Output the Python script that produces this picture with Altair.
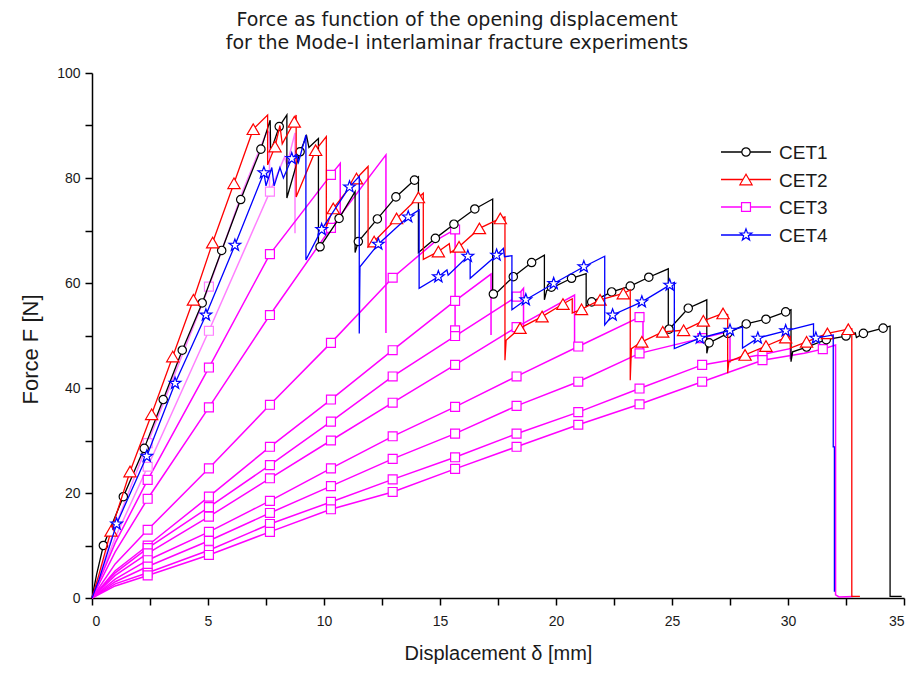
import altair as alt
import pandas as pd

TITLE_LINES = ["Force as function of the opening displacement",
               "for the Mode-I interlaminar fracture experiments"]
X_TITLE = "Displacement δ [mm]"
Y_TITLE = "Force F [N]"
SERIES = ["CET1", "CET2", "CET3", "CET4"]
X_TICKS = [0, 2.5, 5, 7.5, 10, 12.5, 15, 17.5, 20, 22.5, 25, 27.5, 30, 32.5, 35]
Y_TICKS = [0, 10, 20, 30, 40, 50, 60, 70, 80, 90, 100]

# ---------------- CET1 (black, circles) ----------------
CET1_LINE = [(0, 0), (0.2, 4.5), (0.49, 10), (1.35, 19.3), (2.25, 28.5), (3.07, 37.8), (3.89, 47.2),
             (4.75, 56.2), (5.59, 66.2), (6.41, 75.9), (7.28, 85.5), (7.68, 91), (7.7, 85), (8.07, 89.8),
             (8.4, 92), (8.4, 76.2), (8.97, 85), (9.25, 88), (9.35, 85.8), (9.76, 87.5), (9.76, 66),
             (9.83, 66.9), (10.65, 72.3), (11.34, 77.4), (11.34, 65.8), (11.48, 67.9), (12.3, 72.2),
             (13.1, 76.4), (13.9, 79.6), (14.07, 80.2), (14.07, 65.8), (14.8, 68.5), (15.6, 71.2),
             (16.5, 74.1), (17.27, 76), (17.27, 57.4), (18.16, 61.2), (18.95, 63.9), (19.5, 65.3),
             (19.5, 56.8), (19.6, 58.6), (20.67, 60.9), (21.3, 61.8), (21.3, 55.5), (21.54, 56.4),
             (22.4, 58.3), (23.2, 59.4), (24.0, 61.1), (24.84, 62.7), (24.84, 51), (25.7, 55.2),
             (26.5, 56.8), (26.5, 46.6), (26.6, 48.6), (27.4, 50.4), (28.2, 52.2), (29.05, 53.1),
             (29.9, 54.5), (30.13, 54.9), (30.13, 45), (30.2, 46.9), (30.8, 47.8), (31.65, 49.2),
             (32.5, 49.9), (32.9, 50.5), (32.95, 49.6), (33.25, 50.4), (34.1, 51.4), (34.4, 51.8),
             (34.4, 0.3), (34.9, 0.3)]
CET1_MARKS = [(0.49, 10), (1.35, 19.3), (2.25, 28.5), (3.07, 37.8), (3.89, 47.2), (4.75, 56.2),
              (5.59, 66.2), (6.41, 75.9), (7.28, 85.5), (8.07, 89.8), (8.97, 85), (9.83, 66.9),
              (10.65, 72.3), (11.48, 67.9), (12.3, 72.2), (13.1, 76.4), (13.9, 79.6), (14.8, 68.5),
              (15.6, 71.2), (16.5, 74.1), (17.3, 57.9), (18.16, 61.2), (18.95, 63.9), (19.8, 59.2),
              (20.67, 60.9), (21.54, 56.4), (22.4, 58.3), (23.2, 59.4), (24.0, 61.1), (24.87, 51.2),
              (25.7, 55.2), (26.6, 48.6), (27.4, 50.4), (28.2, 52.2), (29.05, 53.1), (29.9, 54.5),
              (30.8, 47.8), (31.65, 49.2), (32.5, 49.9), (33.25, 50.4), (34.1, 51.4)]

# ---------------- CET2 (red, triangles) ----------------
CET2_LINE = [(0, 0), (0.3, 4.5), (0.82, 12.8), (1.64, 24.1), (2.57, 35), (3.48, 46), (4.37, 56.8),
             (5.2, 67.7), (6.12, 79), (6.95, 89.3), (7.57, 92), (7.57, 82.5), (7.89, 86), (8.1, 90),
             (8.2, 86.5), (8.72, 90.7), (8.8, 92), (8.8, 76.4), (9.64, 85.3), (10.1, 87.9), (10.1, 70.7),
             (10.4, 74.2), (11.4, 79.9), (11.9, 82.2), (11.9, 66.9), (12.16, 67.9), (13.13, 72.3),
             (14.07, 76.3), (14.28, 77.1), (14.28, 64.5), (14.93, 66), (15.4, 67.5), (15.45, 65.8),
             (15.82, 66.9), (16.7, 70.4), (17.6, 72.3), (17.8, 72.6), (17.8, 45.3), (17.85, 49.1),
             (18.45, 51.4), (19.4, 53.6), (20.3, 56), (20.7, 57), (20.7, 54.3), (21.1, 55), (21.9, 56.8),
             (22.9, 58), (23.2, 58.7), (23.2, 41.5), (23.25, 47.5), (23.7, 48.8), (24.6, 50.7),
             (25.5, 51), (26.35, 52.8), (27.2, 54.2), (27.4, 54), (27.4, 42.8), (27.45, 45),
             (28.15, 46.3), (29.05, 48), (29.9, 49.6), (30.1, 49.8), (30.1, 47.6), (30.8, 48.8),
             (31.7, 50.4), (32.6, 51.2), (32.75, 51.3), (32.75, 0.3), (33.1, 0.3)]
CET2_MARKS = [(0.82, 12.8), (1.64, 24.1), (2.57, 35), (3.48, 46), (4.37, 56.8), (5.2, 67.7),
              (6.12, 79), (6.95, 89.3), (7.89, 86), (8.72, 90.7), (9.64, 85.3), (10.4, 74.2),
              (11.4, 79.9), (12.16, 67.9), (13.13, 72.3), (14.07, 76.3), (14.93, 66), (15.82, 66.9),
              (16.7, 70.4), (17.6, 72.3), (18.45, 51.4), (19.4, 53.6), (20.3, 56), (21.1, 55),
              (21.9, 56.8), (22.9, 58), (23.7, 48.8), (24.6, 50.7), (25.5, 51), (26.35, 52.8),
              (27.2, 54.2), (28.15, 46.3), (29.05, 48), (29.9, 49.6), (30.8, 48.8), (31.7, 50.4),
              (32.6, 51.2)]

# ---------------- CET4 (blue, stars) ----------------
CET4_LINE = [(0, 0), (0.3, 3.5), (1.06, 14.1), (2.36, 27), (3.58, 40.9), (4.91, 53.9), (6.16, 67.2),
             (7.41, 81), (7.5, 78.5), (7.75, 82), (7.85, 78.5), (8.1, 82), (8.25, 80), (8.61, 83.7),
             (8.8, 84.5), (8.9, 83), (9.22, 88.2), (9.22, 64.4), (9.9, 70.2), (11.1, 78.3),
             (11.52, 80.3), (11.52, 50.4), (11.55, 63.1), (12.34, 67.4), (13.63, 72.6), (14.1, 73.9),
             (14.1, 59), (14.93, 61.2), (15.3, 62.5), (15.35, 61.5), (16.2, 65.1), (16.3, 65.3),
             (16.3, 60.9), (17.44, 65.3), (17.73, 66.6), (17.78, 65), (18.1, 65.2), (18.1, 54.9),
             (18.7, 56.8), (19.9, 59.9), (21.2, 63.1), (22.1, 65.1), (22.1, 52), (22.44, 53.9),
             (23.7, 56.4), (24.9, 59.6), (25.1, 60.1), (25.1, 47.5), (26.2, 49.5), (27.5, 51),
             (28.04, 51.6), (28.04, 47.6), (28.7, 49.5), (29.9, 50.9), (31.1, 52.2), (31.1, 48.6),
             (31.2, 49.5), (31.95, 50.1), (31.95, 28.8), (32.0, 28.8), (32.0, 1.2)]
CET4_MARKS = [(1.06, 14.1), (2.36, 27), (3.58, 40.9), (4.91, 53.9), (6.16, 67.2), (7.41, 81),
              (8.61, 83.7), (9.9, 70.2), (11.1, 78.3), (12.34, 67.4), (13.63, 72.6), (14.93, 61.2),
              (16.2, 65.1), (17.44, 65.3), (18.7, 56.8), (19.9, 59.9), (21.2, 63.1), (22.44, 53.9),
              (23.7, 56.4), (24.9, 59.6), (26.2, 49.5), (27.5, 51), (28.7, 49.5), (29.9, 50.9),
              (31.2, 49.5)]

# ---------------- CET3 (magenta, squares): loading / unloading cycles ----------------
CET3_CYCLES = [
    [(0, 0), (1.0, 13.5), (2.4, 29.5), (5.04, 59.3), (6.5, 77.5), (7.55, 89), (7.65, 88.6), (7.65, 76.4)],
    [(0, 0), (1.0, 11.5), (2.4, 25), (5.04, 50.9), (7.67, 77.4), (8.3, 84), (8.4, 82.5), (8.75, 88.6),
     (8.75, 69.5)],
    [(0, 0), (1.0, 10.5), (2.4, 22.5), (5.04, 43.9), (7.67, 65.5), (10.3, 80.6), (10.7, 82.8), (10.7, 72)],
    [(0, 0), (1.0, 8.8), (2.4, 18.9), (5.04, 36.3), (7.67, 53.9), (10.3, 70.5), (12.0, 80.5),
     (12.67, 84.4), (12.67, 50.5)],
    [(0, 0), (1.0, 6.5), (2.4, 13.0), (5.04, 24.7), (7.67, 36.8), (10.3, 48.6), (12.96, 61.0),
     (14.9, 68.3), (15.65, 70.2), (15.65, 51)],
    [(0, 0), (1.0, 5.2), (2.4, 10.0), (5.04, 19.3), (7.67, 28.8), (10.3, 37.8), (12.96, 47.2),
     (15.65, 56.6), (17.2, 61.7), (17.2, 50.1)],
    [(0, 0), (1.0, 4.8), (2.4, 9.5), (5.04, 17.3), (7.67, 25.3), (10.3, 33.6), (12.96, 42.2),
     (15.65, 49.9), (18.3, 57.4), (18.6, 59), (18.6, 51)],
    [(0, 0), (1.0, 4.3), (2.4, 8.5), (5.04, 15.5), (7.67, 22.8), (10.3, 30.0), (12.96, 37.2),
     (15.65, 44.4), (18.3, 51.6), (20.8, 57.7), (20.8, 47.2)],
    [(0, 0), (1.0, 3.6), (2.4, 7.2), (5.04, 12.6), (7.67, 18.5), (10.3, 24.7), (12.96, 30.8),
     (15.65, 36.4), (18.3, 42.2), (20.96, 47.9), (23.6, 53.5), (23.75, 54.2), (23.75, 46.5)],
    [(0, 0), (1.0, 3.1), (2.4, 6.0), (5.04, 10.9), (7.67, 16.2), (10.3, 21.3), (12.96, 26.5),
     (15.65, 31.3), (18.3, 36.6), (20.96, 41.2), (23.6, 46.6), (26.3, 49.5), (27.5, 50.8), (27.5, 44.8)],
    [(0, 0), (1.0, 2.7), (2.4, 4.8), (5.04, 9.1), (7.67, 14.1), (10.3, 18.3), (12.96, 22.6),
     (15.65, 26.8), (18.3, 31.3), (20.96, 35.4), (23.6, 39.9), (26.3, 44.4), (28.9, 46.4),
     (30.1, 47.5), (30.1, 45.5)],
    [(0, 0), (1.0, 2.3), (2.4, 4.3), (5.04, 8.2), (7.67, 12.6), (10.3, 16.9), (12.96, 20.2),
     (15.65, 24.6), (18.3, 28.8), (20.96, 33.0), (23.6, 36.9), (26.3, 41.2), (28.9, 45.3),
     (30.7, 46.6), (31.5, 47.4), (32.05, 48.2), (32.05, 0.6), (32.2, 0.2), (32.8, 0.3)],
]
CET3_SQUARE_X = [2.4, 5.04, 7.67, 10.3, 12.96, 15.65, 18.3, 20.96, 23.6, 26.3, 28.9, 31.5]
CET3_LIGHT_CYCLES = [0, 1]

# ---------------- styles ----------------
COLOR = {"CET1": "#000000", "CET2": "#FF0000", "CET3": "#FF00FF", "CET3L": "#FF80FF", "CET4": "#0000FF"}
STAR = ("M0,-1L0.235,-0.324L0.951,-0.309L0.38,0.124L0.588,0.809L0,0.4L-0.588,0.809"
        "L-0.38,0.124L-0.951,-0.309L-0.235,-0.324Z")
SHAPE = {"CET1": "circle", "CET2": "triangle-up", "CET3": "square", "CET4": STAR}
SIZE = {"CET1": 70, "CET2": 150, "CET3": 80, "CET4": 150}
FONT = "Liberation Sans"
TXT = "#1a1a1a"

W, H = 812, 525

xenc = alt.X("x:Q", scale=alt.Scale(domain=[0, 35], nice=False, zero=False),
             axis=alt.Axis(values=X_TICKS, title=X_TITLE, grid=False,
                           labelExpr="datum.value % 5 == 0 ? datum.label : ''",
                           titleX=406, titleY=61, titleBaseline="alphabetic", titleFontSize=20,
                           labelPadding=9))
yenc = alt.Y("y:Q", scale=alt.Scale(domain=[0, 100], nice=False),
             axis=alt.Axis(values=Y_TICKS, title=Y_TITLE, grid=False,
                           labelExpr="datum.value % 20 == 0 ? datum.label : ''",
                           titleX=-62, titleY=276, titleAngle=270, titleBaseline="middle",
                           titleAlign="center", titleFontSize=22, labelPadding=5))


def line_layer(pts_list, color, sw=1.3):
    rows = []
    for s, pts in enumerate(pts_list):
        for i, (x, y) in enumerate(pts):
            rows.append({"x": x, "y": y, "seg": s, "i": i})
    return alt.Chart(pd.DataFrame(rows)).mark_line(color=color, strokeWidth=sw, interpolate="linear").encode(
        x=xenc, y=yenc, detail="seg:N", order="i:Q")


def mark_layer(pts, series, color):
    df = pd.DataFrame(pts, columns=["x", "y"])
    return alt.Chart(df).mark_point(shape=SHAPE[series], size=SIZE[series], filled=True, fill="white",
                                    stroke=color, strokeWidth=1.2, opacity=1).encode(x=xenc, y=yenc)


layers = []
# CET3 cycles (bottom)
light = [c for k, c in enumerate(CET3_CYCLES) if k in CET3_LIGHT_CYCLES]
dark = [c for k, c in enumerate(CET3_CYCLES) if k not in CET3_LIGHT_CYCLES]
layers.append(line_layer(light, COLOR["CET3L"], 1.5))
layers.append(line_layer(dark, COLOR["CET3"], 1.5))
sq_light = [(x, y) for c in light for (x, y) in c if x in CET3_SQUARE_X]
sq_dark = [(x, y) for c in dark for (x, y) in c if x in CET3_SQUARE_X]
layers.append(mark_layer(sq_light, "CET3", COLOR["CET3L"]))
layers.append(mark_layer(sq_dark, "CET3", COLOR["CET3"]))

for name, ln, mk in [("CET1", CET1_LINE, CET1_MARKS), ("CET2", CET2_LINE, CET2_MARKS),
                     ("CET4", CET4_LINE, CET4_MARKS)]:
    layers.append(line_layer([ln], COLOR[name]))
    layers.append(mark_layer(mk, name, COLOR[name]))

# manual legend (pixel layout inside the plot)
one = pd.DataFrame({"a": [0]})
LEG_X0, LEG_X1, LEG_MX, LEG_TX = 629, 679, 654, 687
LEG_Y = [79, 106.5, 134, 162]
for k, name in enumerate(SERIES):
    c = COLOR[name]
    yy = LEG_Y[k]
    layers.append(alt.Chart(one).mark_rule(color=c, strokeWidth=1.3).encode(
        x=alt.value(LEG_X0), x2=alt.value(LEG_X1), y=alt.value(yy)))
    layers.append(alt.Chart(one).mark_point(shape=SHAPE[name], size=SIZE[name], filled=True, fill="white",
                                            stroke=c, strokeWidth=1.2, opacity=1).encode(
        x=alt.value(LEG_MX), y=alt.value(yy)))
    layers.append(alt.Chart(one).mark_text(text=name, align="left", baseline="middle", font=FONT,
                                           fontSize=19, color=TXT).encode(
        x=alt.value(LEG_TX), y=alt.value(yy + 1)))

chart = alt.layer(*layers).properties(
    width=W, height=H,
    title=alt.Title(TITLE_LINES, font="DejaVu Sans", fontSize=19, fontWeight="normal", color=TXT,
                    anchor="middle", dx=-41, offset=13, lineHeight=23),
    autosize=alt.AutoSizeParams(type="none"),
    padding={"left": 84, "top": 65, "right": 2, "bottom": 67},
).configure_view(stroke=None).configure_axis(
    domainColor="black", domainWidth=1.5, tickColor="black", tickWidth=1.5, tickSize=7,
    labelFont=FONT, labelFontSize=14, labelColor=TXT, titleFont=FONT, titleFontSize=19,
    titleFontWeight="normal", titleColor=TXT)

chart.save("out.html", embed_options={"renderer": "svg", "actions": False})
